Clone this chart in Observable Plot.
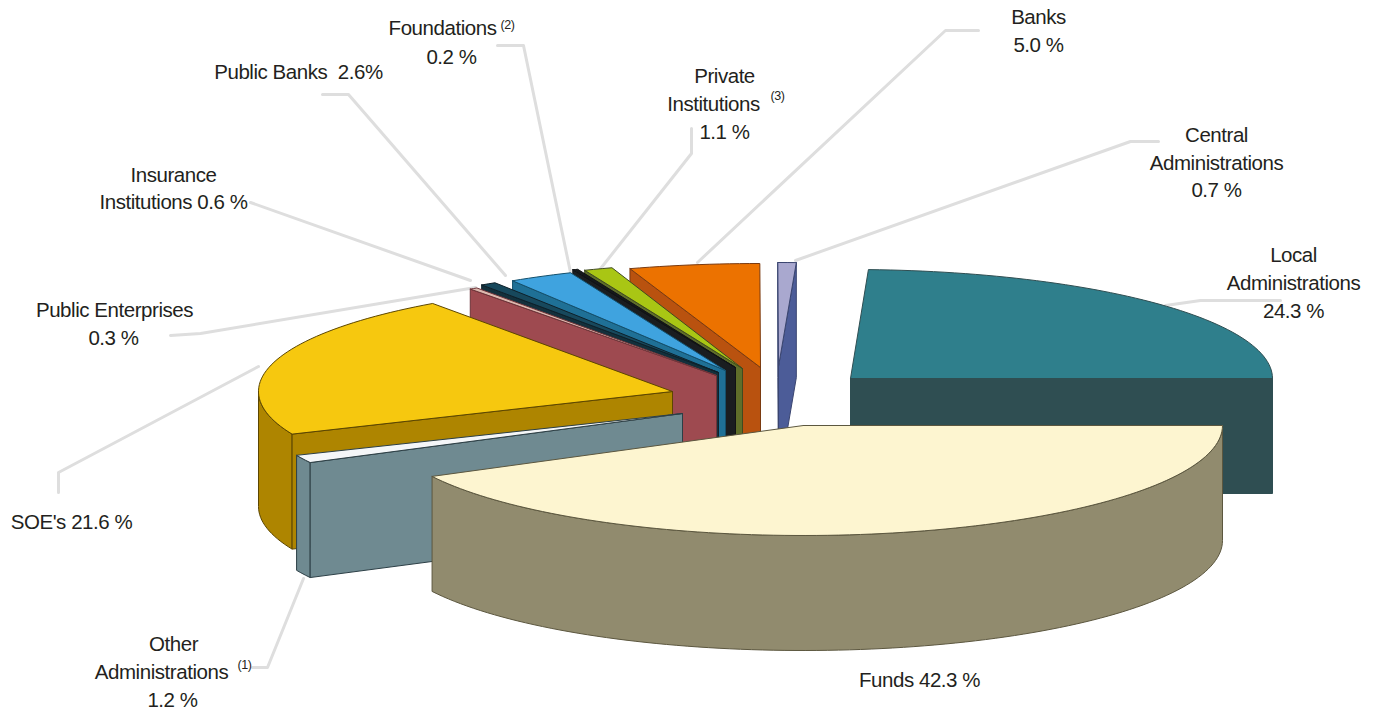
<!DOCTYPE html>
<html><head><meta charset="utf-8">
<script src="https://cdn.jsdelivr.net/npm/d3@7"></script>
<script src="https://cdn.jsdelivr.net/npm/@observablehq/plot@0.6"></script>
<style>html,body{margin:0;padding:0;background:#fff}</style>
</head><body><div id="chart"></div>
<script>
// data: shares in %, counter-clockwise from 3 o'clock
const sliceNames = ["Local Administrations","Central Administrations","Banks","Private Institutions","Foundations","Public Banks","Insurance Institutions","Public Enterprises","SOE's","Other Administrations","Funds"];
const sliceShares = [24.3,0.7,5.0,1.1,0.2,2.6,0.6,0.3,21.6,1.2,42.3];

// layout: exploded-slice centres and ellipse radii
const sliceCx = [850,778,760,742,735,725,718,716,672,682,803];
const sliceCy = [378,366,367,368,367,370,372,375,391,413,425];
const sliceRx = [422,420,420,420,420,400,420,425,414,420,419];
const sliceRy = [109,104,104,106,106,106,106,106,108,106,110];
const depth = 115;

// styles
const topColors  = ["#2f7f8c","#a9a8cf","#ec7200","#a9c614","#15181c","#3fa3df","#17485c","#dcb8ae","#f6c80f","#f4f6f8","#fdf5d0"];
const faceColors = ["#2f4e52","#4c5c98","#b9520f","#5f6e2a","#1a1d20","#1f7096","#13303c","#9e4a50","#ae8500","#6f8a91","#918b6e"];
const edgeColors = ["#2f4e52","#3a4570","#7a3a10","#3f4a20","#101214","#14506c","#0e2029","#6e3338","#5c4600","#2c3f46","#5c573f"];

// label lines
const labelLines = ["Local","Administrations","24.3 %","Central","Administrations","0.7 %","Banks","5.0 %","Private","Institutions","1.1 %","Foundations","0.2 %","Public Banks  2.6%","Insurance","Institutions 0.6 %","Public Enterprises","0.3 %","SOE's 21.6 %","Other","Administrations","1.2 %","Funds 42.3 %"];
const labelX = [1293,1293,1293,1216,1216,1216,1038,1038,724,713,724,442,451,298,173,173,114,113,71,173,161,172,919];
const labelY = [255,283,311,135,163,190,17,45,76,104,132,28,57,72,175,202,310,338,522,644,672,700,680];
const noteMarks = ["(1)","(2)","(3)"];
const noteX = [244,507,777];
const noteY = [664,24,95];

// leader lines
const leaders = [
  [[1280,300],[1200,300],[1165,305]],
  [[1158,141],[1130,141],[795,260]],
  [[978,30],[945,30],[697,262]],
  [[691,128],[691,153],[597,272]],
  [[497,45],[523,45],[570,272]],
  [[322,94],[348,94],[505,275]],
  [[250,202],[470,280]],
  [[170,335],[200,333],[475,287]],
  [[58,492],[58,472],[258,366]],
  [[252,667],[267,667],[303,578]]
];

const total = d3.sum(sliceShares);
const rad = d => d * Math.PI / 180;
const rim = (i, a, dz = 0) => ({x: sliceCx[i] + sliceRx[i] * Math.cos(rad(a)), y: sliceCy[i] - sliceRy[i] * Math.sin(rad(a)) + dz});
const arc = (i, a0, a1, dz = 0) => {
  const n = Math.max(2, Math.ceil(Math.abs(a1 - a0) / 1.5));
  return d3.range(n + 1).map(k => rim(i, a0 + (a1 - a0) * k / n, dz));
};

const faces = [];
let acc = 0;
sliceShares.forEach((v, i) => {
  const a0 = acc / total * 360, a1 = (acc + v) / total * 360;
  acc += v;
  const apex = {x: sliceCx[i], y: sliceCy[i]}, apexLow = {x: sliceCx[i], y: sliceCy[i] + depth};
  const edge = edgeColors[i];
  const w0 = Math.max(a0, 180), w1 = Math.min(a1, 360);
  if (w1 > w0) faces.push({pts: [...arc(i, w0, w1), ...arc(i, w1, w0, depth)], fill: faceColors[i], stroke: edge});
  if (Math.cos(rad(a0)) > 0.001) faces.push({pts: [rim(i, a0), apex, apexLow, rim(i, a0, depth)], fill: faceColors[i], stroke: edge});
  if (Math.cos(rad(a1)) < -0.001) faces.push({pts: [rim(i, a1), apex, apexLow, rim(i, a1, depth)], fill: faceColors[i], stroke: edge});
  faces.push({pts: [apex, ...arc(i, a0, a1)], fill: topColors[i], stroke: edge});
});
const closed = p => [...p, p[0]];

const font = "'Liberation Sans',sans-serif";
const chart = Plot.plot({
  width: 1378, height: 710, margin: 0,
  x: {domain: [0, 1378], range: [0, 1378], axis: null},
  y: {domain: [0, 710], range: [0, 710], axis: null},
  style: {background: "#fff", letterSpacing: "-0.45px"},
  marks: [
    ...leaders.map(l => Plot.line(l.map(([x, y]) => ({x, y})), {x: "x", y: "y", stroke: "#dedede", strokeWidth: 3})),
    ...faces.map(f => Plot.line(closed(f.pts), {x: "x", y: "y", fill: f.fill, stroke: f.stroke, strokeWidth: 1})),
    Plot.text(labelLines, {x: (d, i) => labelX[i], y: (d, i) => labelY[i], text: d => d, fontFamily: font, fontSize: 20.5, fill: "#231f20"}),
    Plot.text(noteMarks, {x: (d, i) => noteX[i], y: (d, i) => noteY[i], text: d => d, fontFamily: font, fontSize: 12.5, fill: "#231f20"})
  ]
});
document.getElementById("chart").append(chart);
</script></body></html>
